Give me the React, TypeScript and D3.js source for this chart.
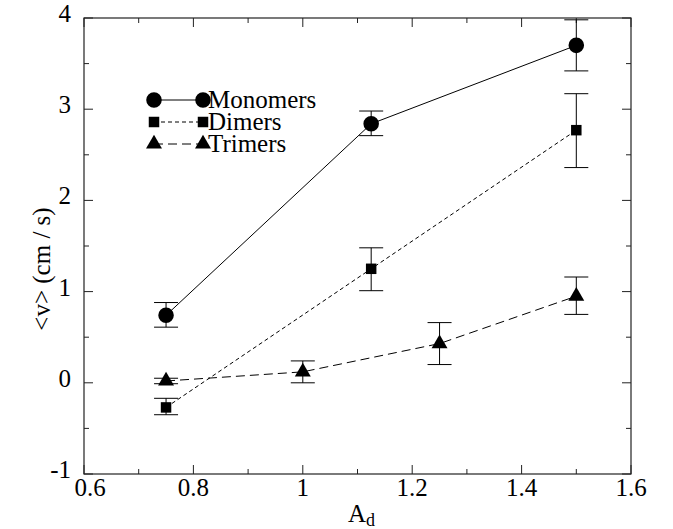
import React from 'react';
import * as d3 from 'd3';

// series: x = A_d, y = <v>, lo/hi = error bar ends
const monoX = [0.75, 1.125, 1.5];
const monoY = [0.74, 2.84, 3.70];
const monoLo = [0.61, 2.71, 3.42];
const monoHi = [0.88, 2.98, 3.98];

const dimX = [0.75, 1.125, 1.5];
const dimY = [-0.27, 1.25, 2.77];
const dimLo = [-0.35, 1.01, 2.36];
const dimHi = [-0.17, 1.48, 3.17];

const triX = [0.75, 1.0, 1.25, 1.5];
const triY = [0.02, 0.12, 0.43, 0.95];
const triLo = [-0.01, 0.0, 0.2, 0.75];
const triHi = [0.05, 0.24, 0.66, 1.16];

const xTicks = [0.6, 0.8, 1, 1.2, 1.4, 1.6];
const yTicks = [-1, 0, 1, 2, 3, 4];
const legendNames = ['Monomers', 'Dimers', 'Trimers'];

const W = 673;
const H = 529;
const m = {left: 84, right: 42, top: 18, bottom: 55};

type Pt = {x: number; y: number; lo: number; hi: number};
const zipPts = (xs: number[], ys: number[], lo: number[], hi: number[]): Pt[] =>
  xs.map((x, i) => ({x, y: ys[i], lo: lo[i], hi: hi[i]}));

export default function App() {
  const x = d3.scaleLinear().domain([0.6, 1.6]).range([m.left, W - m.right]);
  const y = d3.scaleLinear().domain([-1, 4]).range([H - m.bottom, m.top]);
  const [x0, x1] = x.range();
  const [y0, y1] = y.range();

  const line = d3.line<Pt>().x((d) => x(d.x)).y((d) => y(d.y));

  const series = [
    {pts: zipPts(monoX, monoY, monoLo, monoHi), dash: undefined, sym: d3.symbolCircle, size: 190},
    {pts: zipPts(dimX, dimY, dimLo, dimHi), dash: '4,3', sym: d3.symbolSquare, size: 110},
    {pts: zipPts(triX, triY, triLo, triHi), dash: '9,5', sym: d3.symbolTriangle, size: 110},
  ];

  const xMinor = d3.range(0.7, 1.6, 0.2);
  const yMinor = d3.range(-0.5, 4, 1);

  return (
    <svg width={W} height={H} fontFamily="Liberation Serif" fontSize={25}
      style={{position: 'absolute', left: 0, top: 0}}>
      <rect width={W} height={H} fill="white" />
      {/* frame */}
      <rect x={x0} y={y1} width={x1 - x0} height={y0 - y1} fill="none" stroke="#222" strokeWidth={1.2} />
      {xTicks.map((t, i) => (
        <g key={'xt' + t}>
          <line x1={x(t)} x2={x(t)} y1={y0} y2={y0 - 9} stroke="#222" />
          <line x1={x(t)} x2={x(t)} y1={y1} y2={y1 + 9} stroke="#222" />
          <text x={x(t) + (i === 0 ? 6 : 0)} y={y0 + 22} textAnchor="middle">{t}</text>
        </g>
      ))}
      {xMinor.map((t) => (
        <g key={'xm' + t}>
          <line x1={x(t)} x2={x(t)} y1={y0} y2={y0 - 5} stroke="#222" />
          <line x1={x(t)} x2={x(t)} y1={y1} y2={y1 + 5} stroke="#222" />
        </g>
      ))}
      {yTicks.map((t) => (
        <g key={'yt' + t}>
          <line x1={x0} x2={x0 + 9} y1={y(t)} y2={y(t)} stroke="#222" />
          <line x1={x1} x2={x1 - 9} y1={y(t)} y2={y(t)} stroke="#222" />
          <text x={x0 - 13} y={y(t) + 4} textAnchor="end">{t}</text>
        </g>
      ))}
      {yMinor.map((t) => (
        <g key={'ym' + t}>
          <line x1={x0} x2={x0 + 5} y1={y(t)} y2={y(t)} stroke="#222" />
          <line x1={x1} x2={x1 - 5} y1={y(t)} y2={y(t)} stroke="#222" />
        </g>
      ))}
      {/* axis titles */}
      <text x={(x0 + x1) / 2 + 4} y={H - 7} textAnchor="middle">
        A<tspan dy={4} fontSize={18}>d</tspan>
      </text>
      <text transform={`translate(50,${(y0 + y1) / 2 + 23}) rotate(-90)`} textAnchor="middle">
        {'<v> (cm / s)'}
      </text>
      {/* series */}
      {series.map((s, i) => (
        <g key={'s' + i}>
          <path d={line(s.pts) || ''} fill="none" stroke="black" strokeWidth={1} strokeDasharray={s.dash} />
          {s.pts.map((p, j) => (
            <g key={j}>
              <line x1={x(p.x)} x2={x(p.x)} y1={y(p.lo)} y2={y(p.hi)} stroke="black" />
              <line x1={x(p.x) - 12} x2={x(p.x) + 12} y1={y(p.lo)} y2={y(p.lo)} stroke="black" />
              <line x1={x(p.x) - 12} x2={x(p.x) + 12} y1={y(p.hi)} y2={y(p.hi)} stroke="black" />
              <path transform={`translate(${x(p.x)},${y(p.y)})`} d={d3.symbol().type(s.sym).size(s.size)() || ''} fill="black" />
            </g>
          ))}
        </g>
      ))}
      {/* legend */}
      {series.map((s, i) => {
        const ly = 100 + i * 22;
        return (
          <g key={'l' + i}>
            <line x1={154} x2={203} y1={ly} y2={ly} stroke="black" strokeDasharray={s.dash} />
            <path transform={`translate(154,${ly})`} d={d3.symbol().type(s.sym).size(s.size)() || ''} fill="black" />
            <path transform={`translate(203,${ly})`} d={d3.symbol().type(s.sym).size(s.size)() || ''} fill="black" />
            <text x={208} y={ly + 8}>{legendNames[i]}</text>
          </g>
        );
      })}
    </svg>
  );
}
